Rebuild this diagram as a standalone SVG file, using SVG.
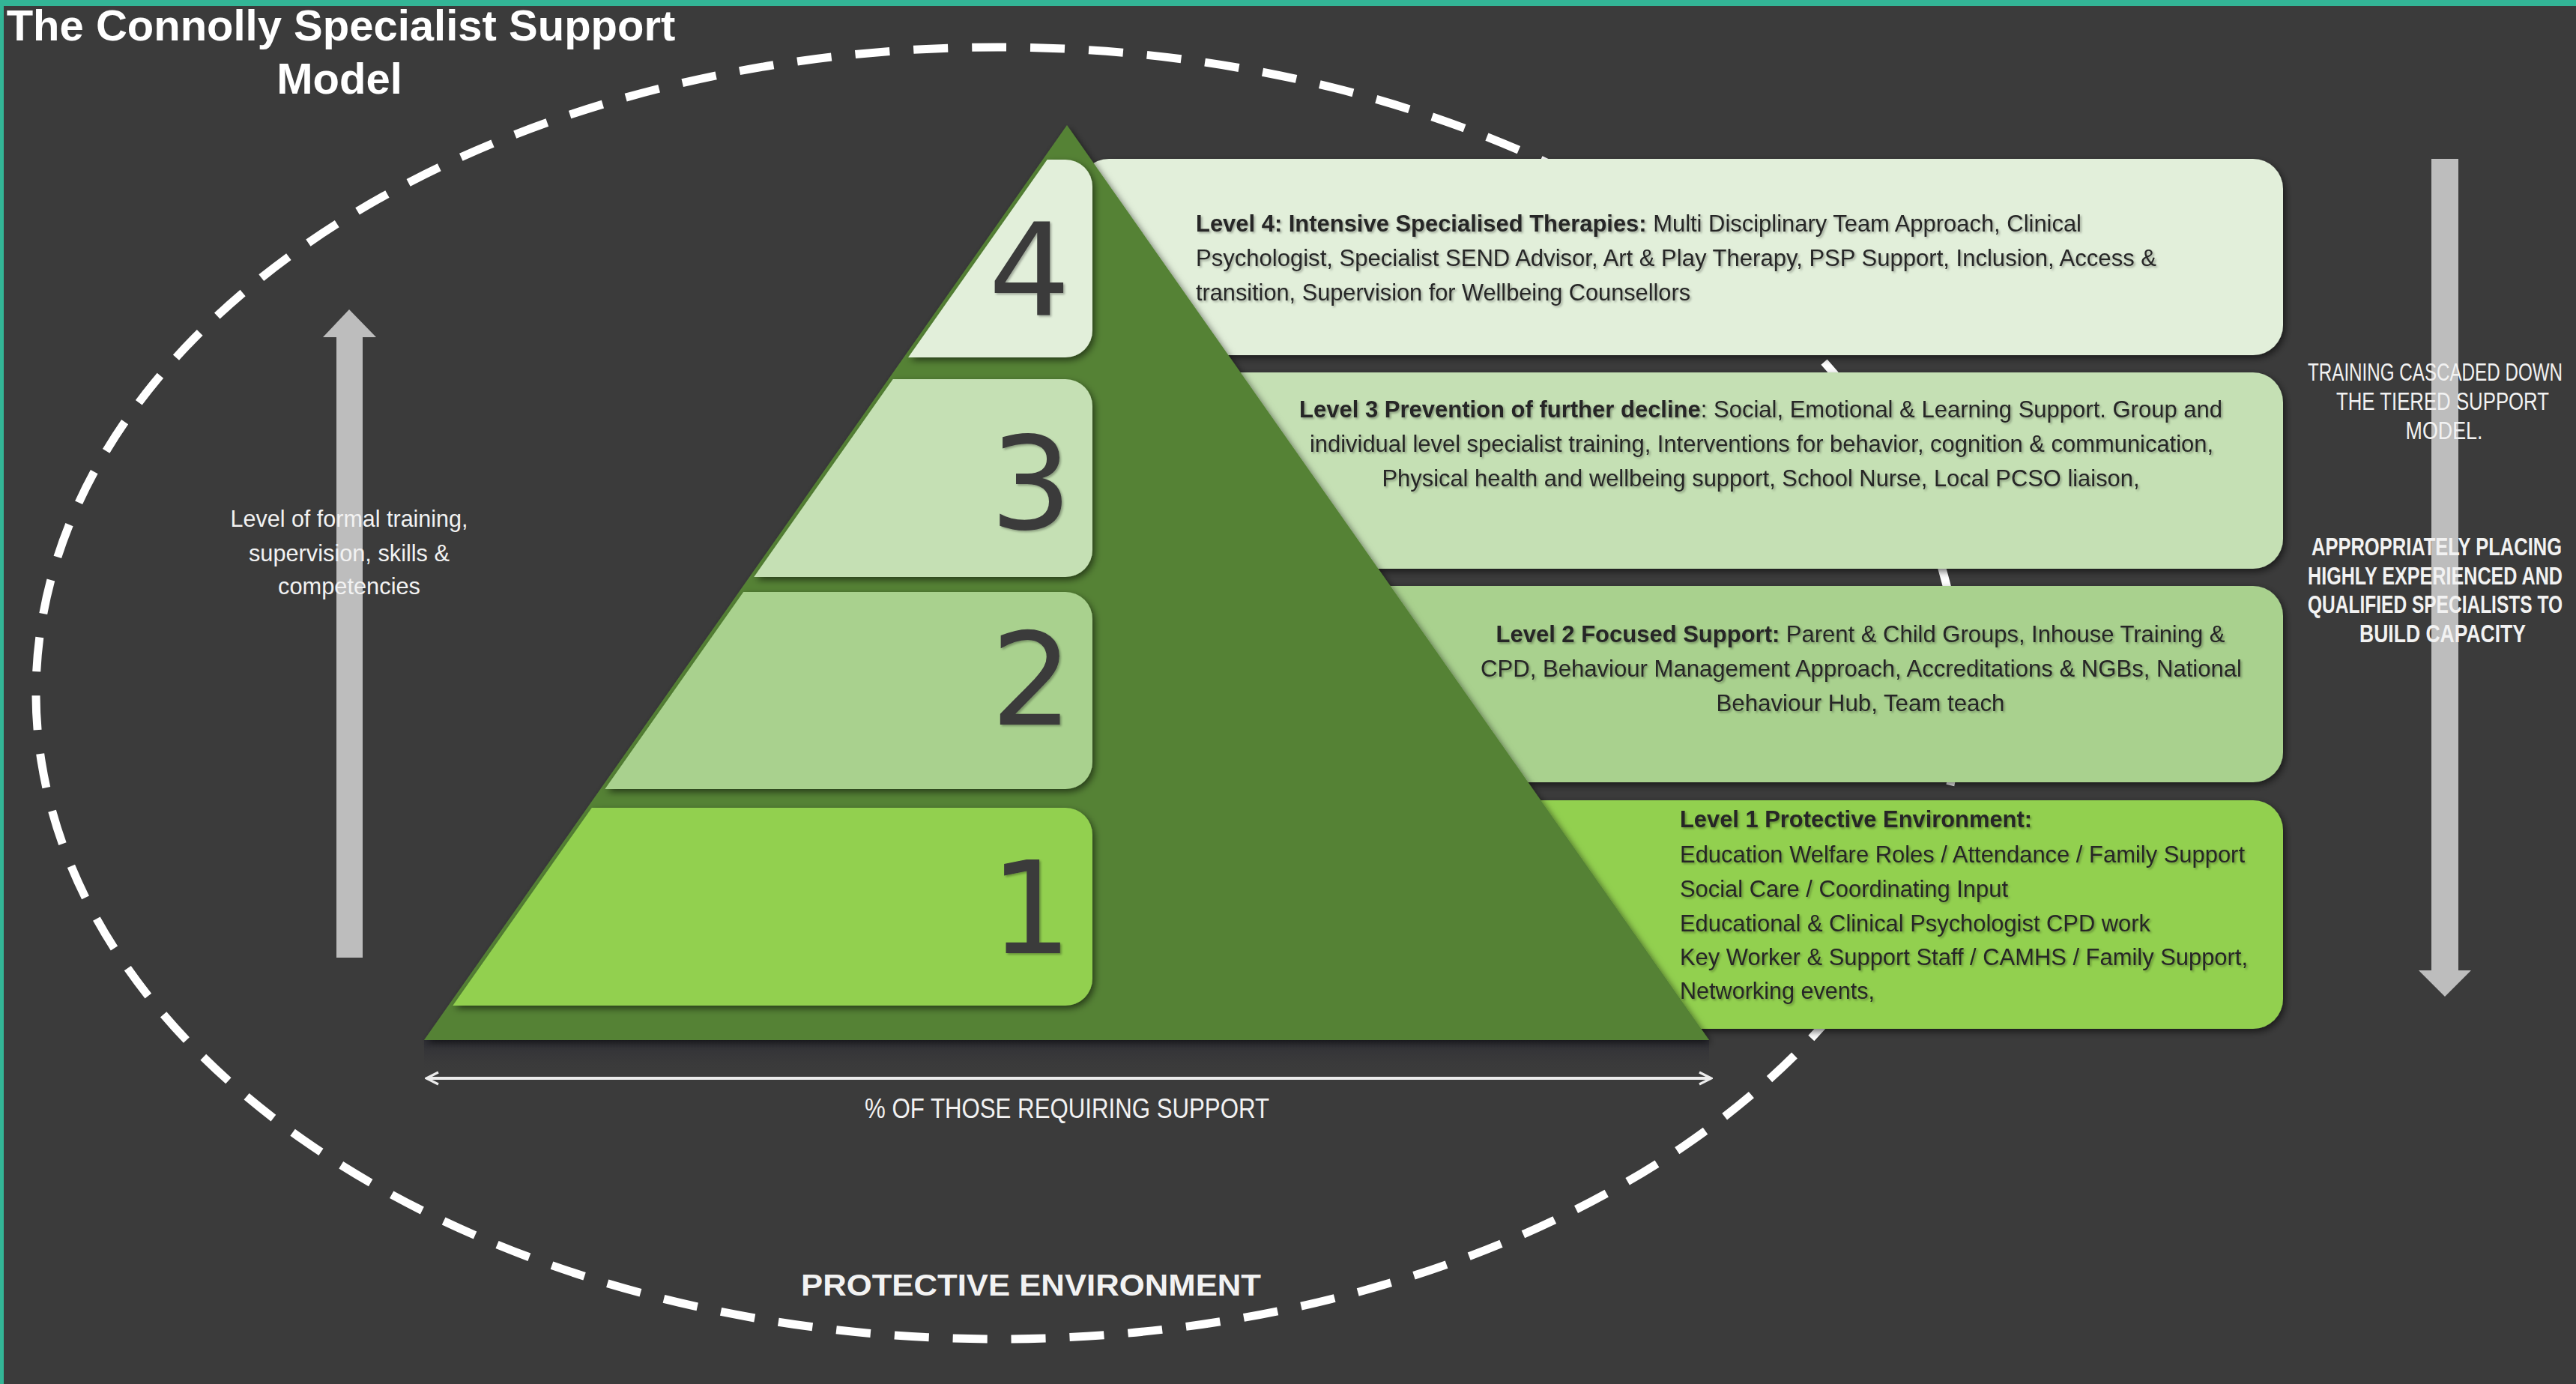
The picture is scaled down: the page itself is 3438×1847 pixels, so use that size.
<svg xmlns="http://www.w3.org/2000/svg" width="3438" height="1847" viewBox="0 0 3438 1847">
<defs>
<style>
.bg{fill:#3b3b3b}
.teal{fill:#33b596}
.ell{fill:none;stroke:#ffffff;stroke-width:11;stroke-dasharray:46 32}
.tri{fill:#548235}
.l4{fill:#e2efda}
.l3{fill:#c5e0b4}
.l2{fill:#a9d18e}
.l1{fill:#92d050}
.num{font-family:"DejaVu Sans","Liberation Sans",sans-serif;font-size:172px;fill:#3a3a3a;text-anchor:middle}
.desc{font-family:"Liberation Sans",Arial,sans-serif;font-size:32px;fill:#262626}
.mid{text-anchor:middle}
.b{font-weight:bold}
.wt{font-family:"Liberation Sans",Arial,sans-serif;fill:#f2f2f2}
.arrow{fill:#bdbdbd}
.title{font-family:"Liberation Sans",Arial,sans-serif;font-weight:bold;font-size:58px;fill:#ffffff;text-anchor:middle}
.conn{stroke:#ececec;stroke-width:4;fill:none}
</style>
<filter id="sh" x="-5%" y="-10%" width="112%" height="130%"><feDropShadow dx="3" dy="4" stdDeviation="5" flood-color="#000" flood-opacity="0.55"/></filter>
<filter id="tsh" x="-5%" y="-20%" width="110%" height="150%"><feDropShadow dx="2" dy="2" stdDeviation="1.5" flood-color="#000" flood-opacity="0.3"/></filter>
<clipPath id="triClip"><polygon points="572,1388 1430,167 2400,167 2400,1388"/></clipPath>
<linearGradient id="band" x1="0" y1="0" x2="0" y2="1"><stop offset="0" stop-color="#2c2c34" stop-opacity="0.9"/><stop offset="1" stop-color="#3b3b3b" stop-opacity="0"/></linearGradient>
<marker id="ah" viewBox="0 0 10 10" refX="9" refY="5" markerWidth="5" markerHeight="5" orient="auto-start-reverse" markerUnits="strokeWidth"><path d="M1,1 L9,5 L1,9" fill="none" stroke="#ececec" stroke-width="1.6"/></marker>
</defs>

<rect class="bg" x="0" y="0" width="3438" height="1847"/>
<rect class="teal" x="0" y="0" width="3438" height="8"/>
<rect class="teal" x="0" y="0" width="5" height="1847"/>

<g id="protective-environment">
<ellipse class="ell" cx="1332" cy="925" rx="1284" ry="862"/>
</g>

<g id="level4-desc" filter="url(#sh)"><rect class="l4" x="1440" y="212" width="1607" height="262" rx="40"/></g>
<g id="level3-desc" filter="url(#sh)"><rect class="l3" x="1440" y="497" width="1607" height="262" rx="40"/></g>
<g id="level2-desc" filter="url(#sh)"><rect class="l2" x="1440" y="782" width="1607" height="262" rx="40"/></g>
<g id="level1-desc" filter="url(#sh)"><rect class="l1" x="1440" y="1068" width="1607" height="305" rx="40"/></g>

<g id="pyramid">
<polygon points="566,1430 2281,1430 2281,1388 566,1388" fill="url(#band)"/>
<polygon class="tri" points="1424,167 2281,1388 566,1388" filter="url(#sh)"/>
</g>

<g id="level-numbers" filter="url(#sh)">
<g clip-path="url(#triClip)">
<rect id="level4-number-box" class="l4" x="500" y="213" width="958" height="264" rx="36"/>
<rect id="level3-number-box" class="l3" x="500" y="506" width="958" height="264" rx="36"/>
<rect id="level2-number-box" class="l2" x="500" y="790" width="958" height="263" rx="36"/>
<rect id="level1-number-box" class="l1" x="500" y="1078" width="958" height="264" rx="36"/>
</g>
</g>

<g id="level-digits" filter="url(#tsh)">
<text class="num" x="1374" y="420">4</text>
<text class="num" x="1376" y="706">3</text>
<text class="num" x="1377" y="967">2</text>
<text class="num" x="1376" y="1272">1</text>
</g>

<g id="level4-text" class="desc" filter="url(#tsh)">
<text x="1596" y="309" textLength="1182" lengthAdjust="spacingAndGlyphs"><tspan class="b">Level 4: Intensive Specialised Therapies:</tspan> Multi Disciplinary Team Approach, Clinical</text>
<text x="1596" y="355" textLength="1282" lengthAdjust="spacingAndGlyphs">Psychologist, Specialist SEND Advisor, Art &amp; Play Therapy, PSP Support, Inclusion, Access &amp;</text>
<text x="1596" y="401" textLength="660" lengthAdjust="spacingAndGlyphs">transition, Supervision for Wellbeing Counsellors</text>
</g>

<g id="level3-text" class="desc mid" filter="url(#tsh)">
<text x="2350" y="557" textLength="1232" lengthAdjust="spacingAndGlyphs"><tspan class="b">Level 3 Prevention of further decline</tspan>: Social, Emotional &amp; Learning Support. Group and</text>
<text x="2351" y="603" textLength="1206" lengthAdjust="spacingAndGlyphs">individual level specialist training, Interventions for behavior, cognition &amp; communication,</text>
<text x="2350" y="649" textLength="1011" lengthAdjust="spacingAndGlyphs">Physical health and wellbeing support, School Nurse, Local PCSO liaison,</text>
</g>

<g id="level2-text" class="desc mid" filter="url(#tsh)">
<text x="2483" y="857" textLength="973" lengthAdjust="spacingAndGlyphs"><tspan class="b">Level 2 Focused Support:</tspan> Parent &amp; Child Groups, Inhouse Training &amp;</text>
<text x="2484" y="903" textLength="1016" lengthAdjust="spacingAndGlyphs">CPD, Behaviour Management Approach, Accreditations &amp; NGBs, National</text>
<text x="2483" y="949" textLength="385" lengthAdjust="spacingAndGlyphs">Behaviour Hub, Team teach</text>
</g>

<g id="level1-text" class="desc" filter="url(#tsh)">
<text x="2242" y="1104" textLength="470" lengthAdjust="spacingAndGlyphs" class="b">Level 1 Protective Environment:</text>
<text x="2242" y="1151" textLength="754" lengthAdjust="spacingAndGlyphs">Education Welfare Roles / Attendance / Family Support</text>
<text x="2242" y="1197" textLength="438" lengthAdjust="spacingAndGlyphs">Social Care / Coordinating Input</text>
<text x="2242" y="1243" textLength="628" lengthAdjust="spacingAndGlyphs">Educational &amp; Clinical Psychologist CPD work</text>
<text x="2242" y="1288" textLength="758" lengthAdjust="spacingAndGlyphs">Key Worker &amp; Support Staff / CAMHS / Family Support,</text>
<text x="2242" y="1333" textLength="260" lengthAdjust="spacingAndGlyphs">Networking events,</text>
</g>

<g id="connectors">
<polygon class="arrow" points="449,1278 449,450 431,450 466,413 502,450 484,450 484,1278"/>
<polygon class="arrow" points="3245,212 3281,212 3281,1295 3298,1295 3263,1330 3228,1295 3245,1295"/>
<line class="conn" x1="569" y1="1439" x2="2284" y2="1439" marker-start="url(#ah)" marker-end="url(#ah)"/>
</g>

<g id="left-label" class="wt" font-size="32" text-anchor="middle">
<text x="466" y="703" textLength="317" lengthAdjust="spacingAndGlyphs">Level of formal training,</text>
<text x="466" y="749" textLength="268" lengthAdjust="spacingAndGlyphs">supervision, skills &amp;</text>
<text x="466" y="793" textLength="190" lengthAdjust="spacingAndGlyphs">competencies</text>
</g>

<g id="right-label-1" class="wt" font-size="34" text-anchor="middle">
<text x="3250" y="508" textLength="340" lengthAdjust="spacingAndGlyphs">TRAINING CASCADED DOWN</text>
<text x="3260" y="547" textLength="284" lengthAdjust="spacingAndGlyphs">THE TIERED SUPPORT</text>
<text x="3262" y="586" textLength="103" lengthAdjust="spacingAndGlyphs">MODEL.</text>
</g>

<g id="right-label-2" class="wt" font-size="34" font-weight="bold" text-anchor="middle">
<text x="3252" y="741" textLength="334" lengthAdjust="spacingAndGlyphs">APPROPRIATELY PLACING</text>
<text x="3250" y="780" textLength="340" lengthAdjust="spacingAndGlyphs">HIGHLY EXPERIENCED AND</text>
<text x="3250" y="818" textLength="340" lengthAdjust="spacingAndGlyphs">QUALIFIED SPECIALISTS TO</text>
<text x="3260" y="857" textLength="222" lengthAdjust="spacingAndGlyphs">BUILD CAPACITY</text>
</g>

<g id="bottom-label" class="wt" text-anchor="middle">
<text x="1424" y="1492" font-size="36" textLength="540" lengthAdjust="spacingAndGlyphs">% OF THOSE REQUIRING SUPPORT</text>
<text x="1376" y="1729" font-size="40" font-weight="bold" textLength="614" lengthAdjust="spacingAndGlyphs">PROTECTIVE ENVIRONMENT</text>
</g>

<g id="title">
<text class="title" x="455" y="54">The Connolly Specialist Support</text>
<text class="title" x="453" y="125">Model</text>
</g>
</svg>
